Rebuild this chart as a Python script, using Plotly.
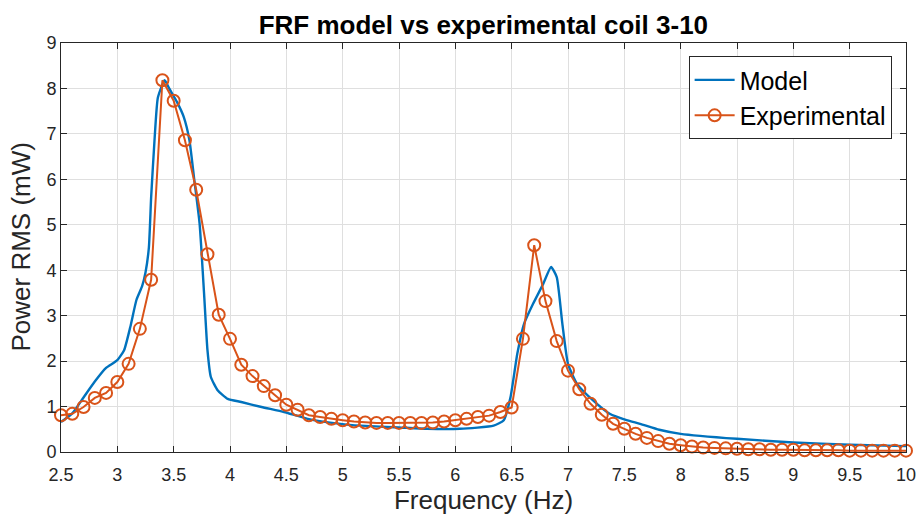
import plotly.graph_objects as go

# Model (smooth curve)
model_f = [2.5, 2.6, 2.7, 2.8, 2.9, 3.0, 3.06, 3.115, 3.17, 3.22, 3.25, 3.28, 3.30, 3.33, 3.36,
           3.42, 3.46, 3.53, 3.59, 3.64, 3.68, 3.73, 3.77, 3.8, 3.83, 3.89, 3.98, 4.1, 4.28,
           4.48, 4.69, 4.98, 5.16, 5.5, 5.75, 6.04, 6.34, 6.43, 6.49, 6.55, 6.61, 6.69, 6.78,
           6.85, 6.90, 6.95, 7.0, 7.08, 7.22, 7.37, 7.52, 7.64, 7.81, 8.0, 8.5, 9.0, 9.5, 10.0]
model_p = [0.66, 0.85, 1.2, 1.55, 1.85, 2.02, 2.24, 2.75, 3.35, 3.65, 3.95, 4.5, 5.6, 6.86, 7.8,
           8.18, 8.0, 7.7, 7.37, 6.86, 6.05, 5.03, 3.48, 2.24, 1.65, 1.36, 1.17, 1.10, 0.99,
           0.88, 0.73, 0.62, 0.58, 0.54, 0.51, 0.51, 0.58, 0.70, 1.21, 2.16, 2.82, 3.26, 3.70,
           4.07, 3.85, 2.82, 1.94, 1.50, 1.14, 0.84, 0.70, 0.62, 0.49, 0.40, 0.29, 0.21, 0.16, 0.13]

# Experimental points (every 0.1 Hz)
exp_f = [round(2.5 + 0.1 * i, 1) for i in range(76)]
exp_p = [0.81, 0.84, 0.99, 1.19, 1.30, 1.54, 1.94, 2.71, 3.79, 8.18,
         7.73, 6.86, 5.77, 4.35, 3.02, 2.49, 1.92, 1.67, 1.45, 1.25,
         1.04, 0.93, 0.81, 0.77, 0.73, 0.70, 0.67, 0.65, 0.64, 0.64,
         0.64, 0.64, 0.64, 0.65, 0.67, 0.70, 0.73, 0.77, 0.80, 0.88,
         0.98, 2.49, 4.55, 3.32, 2.44, 1.79, 1.38, 1.06, 0.82, 0.62,
         0.51, 0.40, 0.31, 0.24, 0.18, 0.15, 0.12, 0.10, 0.09, 0.08,
         0.07, 0.06, 0.06, 0.05, 0.05, 0.05, 0.04, 0.04, 0.04, 0.04,
         0.03, 0.03, 0.03, 0.03, 0.03, 0.03]

x_ticks = [2.5, 3, 3.5, 4, 4.5, 5, 5.5, 6, 6.5, 7, 7.5, 8, 8.5, 9, 9.5, 10]
x_tick_labels = ["2.5", "3", "3.5", "4", "4.5", "5", "5.5", "6", "6.5", "7", "7.5", "8", "8.5", "9", "9.5", "10"]
y_ticks = list(range(0, 10))

FONT = "Liberation Sans, Arial, sans-serif"
AX = "#262626"

fig = go.Figure()
fig.add_trace(go.Scatter(x=model_f, y=model_p, mode="lines", name="Model",
                         line=dict(color="#0072BD", width=2.4, shape="spline", smoothing=0.5)))
fig.add_trace(go.Scatter(x=exp_f, y=exp_p, mode="lines+markers", name="Experimental",
                         line=dict(color="#D95319", width=2),
                         marker=dict(symbol="circle-open", size=12, color="#D95319",
                                     line=dict(width=2, color="#D95319")),
                         cliponaxis=False))

fig.update_layout(
    width=919, height=518,
    margin=dict(l=61, r=13, t=43, b=66),
    paper_bgcolor="white", plot_bgcolor="white",
    font=dict(family=FONT, color=AX),
    title=dict(text="<b>FRF model vs experimental coil 3-10</b>", x=0.526, xanchor="center",
               y=0.951, yanchor="middle", font=dict(size=26, color="black", family=FONT)),
    showlegend=True,
    legend=dict(x=0.983, y=0.968, xanchor="right", yanchor="top",
                bgcolor="white", bordercolor=AX, borderwidth=1,
                font=dict(size=25, color="black", family=FONT),
                tracegroupgap=0, itemwidth=40),
    xaxis=dict(range=[2.5, 10], tickvals=x_ticks, ticktext=x_tick_labels,
               showgrid=True, gridcolor="#dfdfdf", gridwidth=1, automargin=False,
               showline=True, linecolor=AX, linewidth=1, mirror="ticks",
               ticks="inside", ticklen=6, tickcolor=AX, ticklabelstandoff=6,
               tickfont=dict(size=18, color=AX, family=FONT), zeroline=False,
               title=dict(text="Frequency (Hz)", font=dict(size=26, color=AX, family=FONT), standoff=1)),
    yaxis=dict(range=[0, 9], tickvals=y_ticks,
               showgrid=True, gridcolor="#dfdfdf", gridwidth=1, automargin=False,
               showline=True, linecolor=AX, linewidth=1, mirror="ticks",
               ticks="inside", ticklen=6, tickcolor=AX,
               tickfont=dict(size=18, color=AX, family=FONT), zeroline=False),
    annotations=[dict(text="Power RMS (mW)", textangle=-90, xref="paper", yref="paper",
                      x=-0.0485, y=0.5, xanchor="center", yanchor="middle", showarrow=False,
                      font=dict(size=26, color=AX, family=FONT))],
)

# remove the default 8px page margin so the 919x518 figure fills the window exactly
fig.write_html("out.html", config={"displayModeBar": False},
               post_script="document.body.style.margin='0';document.body.style.overflow='hidden';")
